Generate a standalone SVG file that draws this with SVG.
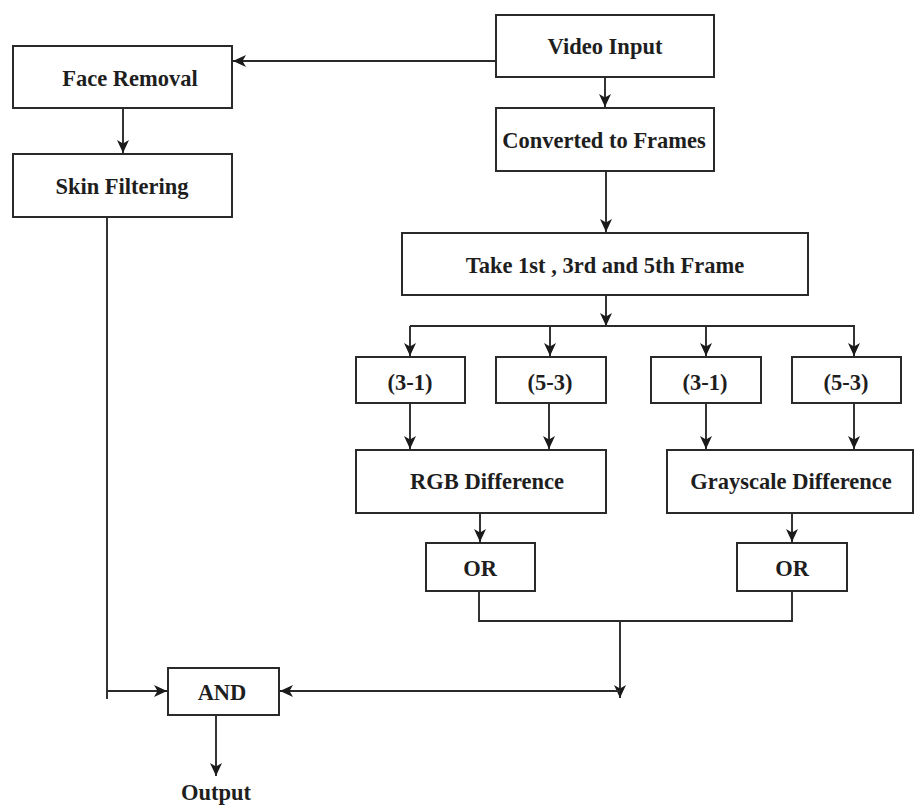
<svg xmlns="http://www.w3.org/2000/svg" width="915" height="805" viewBox="0 0 915 805">
<defs>
<style>
.box{fill:#fff;stroke:#2a2a2a;stroke-width:2}
.t{font-family:"Liberation Serif","Times New Roman",serif;font-weight:bold;font-size:22.5px;fill:#1e1e1e;text-anchor:middle}
.c{fill:none;stroke:#2a2a2a;stroke-width:1.9}
.a{marker-end:url(#arr)}
</style>
<marker id="arr" markerUnits="userSpaceOnUse" viewBox="0 0 13 12" refX="13" refY="6" markerWidth="13" markerHeight="12" orient="auto">
<path d="M0,0 L13,6 L0,12 L3.5,6 z" fill="#1a1a1a"/>
</marker>
</defs>
<rect width="915" height="805" fill="#fff"/>
<g id="connectors">
<line class="c a" x1="496" y1="61" x2="233" y2="61"/>
<line class="c a" x1="123" y1="108" x2="123" y2="153"/>
<line class="c a" x1="605" y1="77" x2="605" y2="107"/>
<line class="c a" x1="606" y1="171" x2="606" y2="232"/>
<line class="c a" x1="606" y1="295" x2="606" y2="326"/>
<line class="c" x1="410" y1="326" x2="855" y2="326"/>
<line class="c a" x1="410" y1="326" x2="410" y2="356"/>
<line class="c a" x1="550" y1="326" x2="550" y2="356"/>
<line class="c a" x1="706" y1="326" x2="706" y2="356"/>
<line class="c a" x1="854" y1="326" x2="854" y2="356"/>
<line class="c a" x1="410" y1="403" x2="410" y2="449"/>
<line class="c a" x1="549" y1="403" x2="549" y2="449"/>
<line class="c a" x1="706" y1="403" x2="706" y2="449"/>
<line class="c a" x1="854" y1="403" x2="854" y2="449"/>
<line class="c a" x1="480" y1="513" x2="480" y2="542"/>
<line class="c a" x1="792" y1="513" x2="792" y2="542"/>
<polyline class="c" points="479,591 479,621 792,621 792,591"/>
<line class="c a" x1="620" y1="621" x2="620" y2="698"/>
<line class="c a" x1="620" y1="691" x2="280" y2="691"/>
<line class="c" x1="107" y1="217" x2="107" y2="699"/>
<line class="c a" x1="107" y1="691" x2="167" y2="691"/>
<line class="c a" x1="216" y1="715" x2="216" y2="776"/>
</g>
<g id="video-input"><rect class="box" x="496" y="15" width="218" height="62"/><text class="t" x="605" y="54">Video Input</text></g>
<g id="face-removal"><rect class="box" x="13" y="46" width="219" height="62"/><text class="t" x="130" y="86">Face Removal</text></g>
<g id="converted-to-frames"><rect class="box" x="496" y="108" width="218" height="63"/><text class="t" x="604" y="148">Converted to Frames</text></g>
<g id="skin-filtering"><rect class="box" x="13" y="154" width="219" height="63"/><text class="t" x="122" y="194">Skin Filtering</text></g>
<g id="take-frames"><rect class="box" x="402" y="233" width="406" height="62"/><text class="t" x="605" y="273">Take 1st , 3rd and 5th Frame</text></g>
<g id="rgb-3-1"><rect class="box" x="356" y="357" width="109" height="46"/><text class="t" x="410" y="390">(3-1)</text></g>
<g id="rgb-5-3"><rect class="box" x="496" y="357" width="110" height="46"/><text class="t" x="550" y="390">(5-3)</text></g>
<g id="gray-3-1"><rect class="box" x="651" y="357" width="110" height="46"/><text class="t" x="705" y="390">(3-1)</text></g>
<g id="gray-5-3"><rect class="box" x="792" y="357" width="109" height="46"/><text class="t" x="846" y="390">(5-3)</text></g>
<g id="rgb-difference"><rect class="box" x="356" y="450" width="250" height="63"/><text class="t" x="487" y="489">RGB Difference</text></g>
<g id="grayscale-difference"><rect class="box" x="667" y="450" width="246" height="63"/><text class="t" x="791" y="489">Grayscale Difference</text></g>
<g id="or-rgb"><rect class="box" x="426" y="543" width="109" height="48"/><text class="t" x="480" y="576">OR</text></g>
<g id="or-gray"><rect class="box" x="737" y="543" width="110" height="48"/><text class="t" x="792" y="576">OR</text></g>
<g id="and"><rect class="box" x="168" y="668" width="111" height="47"/><text class="t" x="222" y="700">AND</text></g>
<g id="output"><text class="t" x="216" y="800">Output</text></g>
</svg>
